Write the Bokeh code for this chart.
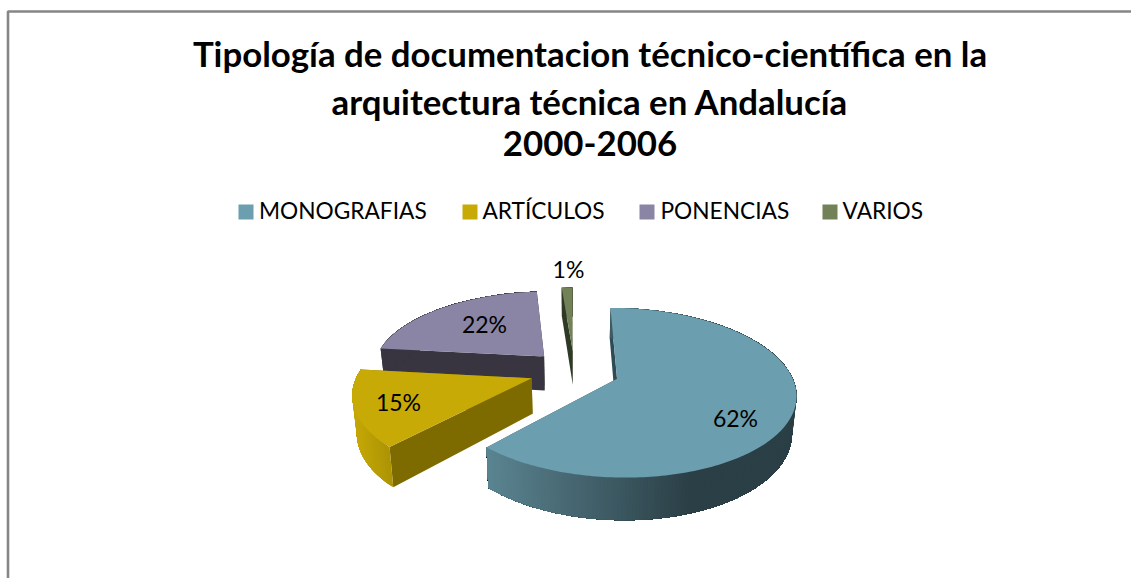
import numpy as np
from bokeh.plotting import figure
from bokeh.models import Range1d
from bokeh.embed import file_html
from bokeh.resources import INLINE
from bokeh.core.properties import value

title_lines = ["Tipología de documentacion técnico-científica en la",
               "arquitectura técnica en Andalucía",
               "2000-2006"]
categories = ["MONOGRAFIAS", "ARTÍCULOS", "PONENCIAS", "VARIOS"]
shares = [62.0, 14.8, 22.0, 1.2]
labels = ["62%", "15%", "22%", "1%"]

FONT = "Lato"
top_col = ["#6b9eae", "#c8aa07", "#8a85a5", "#738159"]
cut_col = ["#2d4a55", "#7d6b00", "#383541", "#2f3a26"]
side_l = ["#5b8592", "#c4a706", "#383541", "#2f3a26"]
side_r = ["#2b3f46", "#a89004", "#383541", "#2f3a26"]
side_span = [(483, 690), (355, 395), (380, 545), (560, 575)]

# 3D pie projection
VX, Y0, R, K, A, E, D, SHRINK = 574.0, 370.5, 173.0, 80.0, 0.163, 0.26, 35.0, 0.98
START = -0.2


def project(X, Y, bottom=False):
    s = 1.0 / (1.0 + A * Y)
    x = VX + R * X * s
    y = Y0 - K * Y * s
    if bottom:
        x = VX + (x - VX) * SHRINK
        y = y + D * s
    return x, y


def hex2rgb(h):
    return np.array([int(h[i:i + 2], 16) for i in (1, 3, 5)], dtype=float)


def mix(c1, c2, t):
    t = min(max(t, 0.0), 1.0)
    c = hex2rgb(c1) * (1 - t) + hex2rgb(c2) * t
    return "#%02x%02x%02x" % tuple(int(round(v)) for v in c)


p = figure(width=1131, height=578, output_backend="svg", toolbar_location=None,
           x_range=Range1d(0, 1131), y_range=Range1d(578, 0), min_border=0,
           outline_line_color=None, background_fill_color="white")
p.xaxis.visible = False
p.yaxis.visible = False
p.grid.visible = False

# frame of the chart (open to the right and below, as the crop shows)
p.line([7.5, 7.5, 1131], [578, 11, 11], line_color="#868686", line_width=2.6)

# angles from the shares
total = sum(shares)
starts, acc = [], START
for v in shares:
    starts.append(acc)
    acc += 360.0 * v / total

for i in [3, 2, 1, 0]:
    a0 = np.radians(starts[i])
    a1 = a0 + np.radians(360.0 * shares[i] / total)
    mid = (a0 + a1) / 2
    ax, ay = E * np.sin(mid), E * np.cos(mid)
    th = np.linspace(a0, a1, max(int(np.degrees(a1 - a0)), 2) + 1)
    Xo, Yo = ax + np.sin(th), ay + np.cos(th)
    tx, ty = project(Xo, Yo)
    bx, by = project(Xo, Yo, True)
    apx, apy = project(ax, ay)
    abx, aby = project(ax, ay, True)
    # cut faces
    for j in (0, -1):
        p.patch([apx, tx[j], bx[j], abx], [apy, ty[j], by[j], aby],
                fill_color=cut_col[i], line_color=None)
    # outer wall with shading: each band reaches the end of the wall, so no seams show
    for j in range(len(th) - 1):
        t = ((tx[j] + tx[j + 1]) / 2 - side_span[i][0]) / (side_span[i][1] - side_span[i][0])
        c = mix(side_l[i], side_r[i], t)
        p.patch([*tx[j:], *bx[j:][::-1]], [*ty[j:], *by[j:][::-1]],
                fill_color=c, line_color=None)
    # top surface
    p.patch([apx, *tx], [apy, *ty], fill_color=top_col[i], line_color=None)

# data labels
label_x = [735, 398, 484, 568]
label_y = [417, 401, 323, 268]
p.text(label_x, label_y, text=labels, text_font=value(FONT), text_font_size="23px",
       text_align="center", text_baseline="middle", text_color="#000000")

# title
p.text([589.5, 589.5, 589.5], [53, 101, 143], text=title_lines, text_font=value(FONT),
       text_font_style="bold", text_font_size="34.8px", text_align="center",
       text_baseline="middle", text_color="#000000")

# legend
sq_x = [238, 462, 639, 822]
txt_x = [258.5, 482, 660, 842]
p.quad(left=sq_x, right=[v + 15 for v in sq_x], top=[204] * 4, bottom=[219] * 4,
       fill_color=top_col, line_color=None)
p.text(txt_x, [210] * 4, text=categories, text_font=value(FONT), text_font_size="22.7px",
       text_align="left", text_baseline="middle", text_color="#000000")

open("out.html", "w").write(file_html(p, INLINE))
